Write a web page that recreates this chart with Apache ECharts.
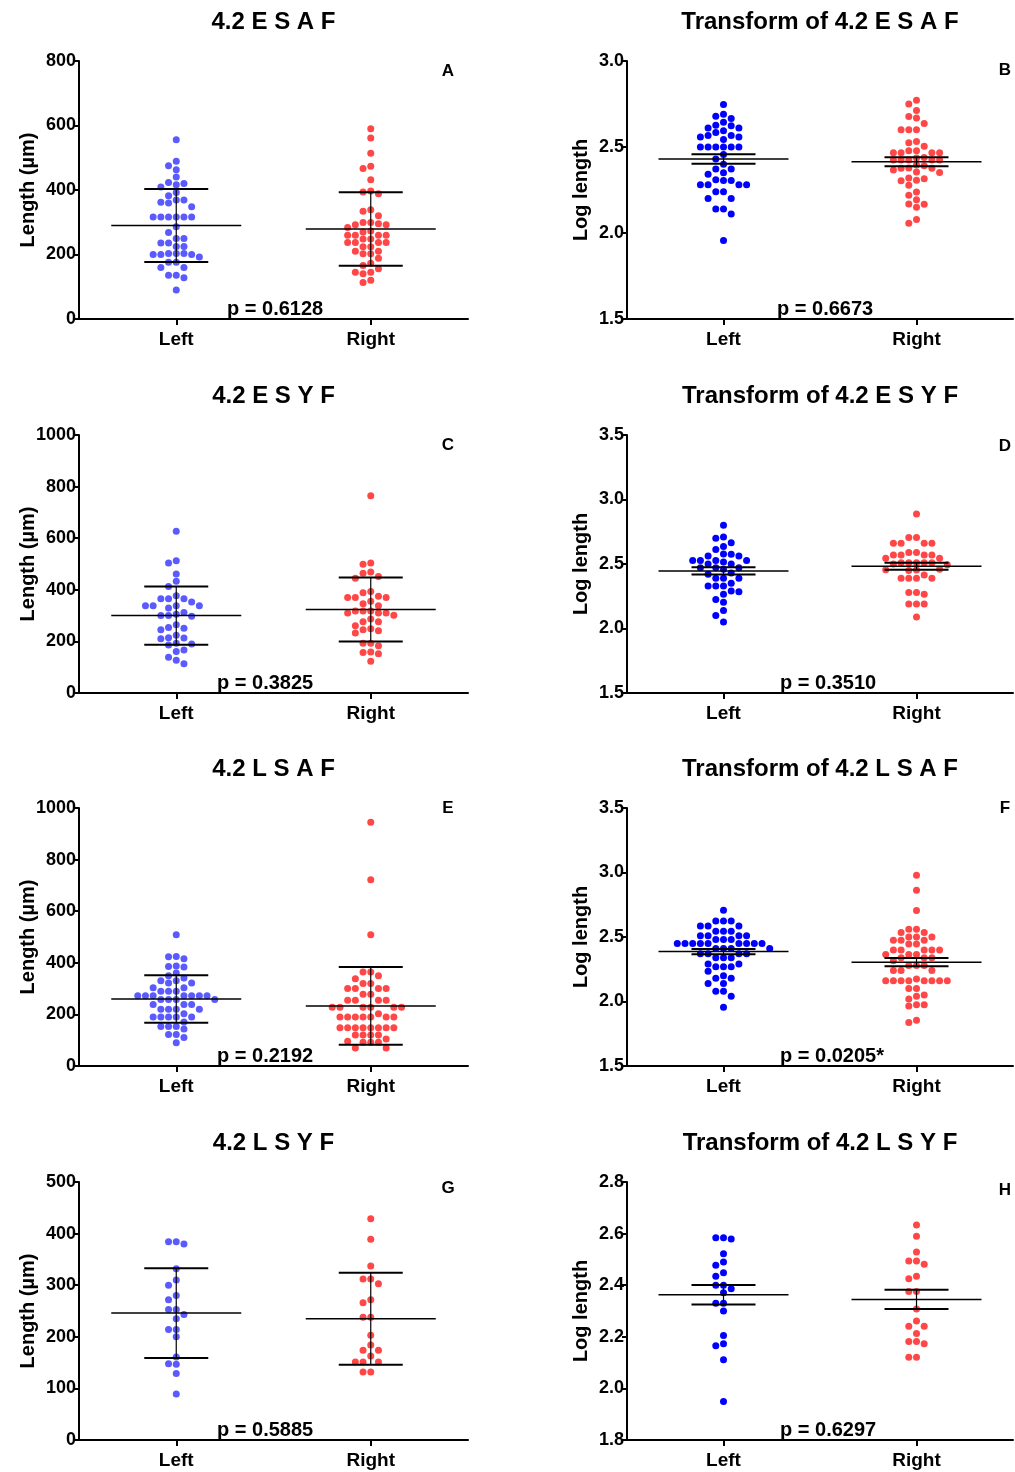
<!DOCTYPE html>
<html>
<head>
<meta charset="utf-8">
<script src="https://cdn.jsdelivr.net/npm/echarts@6/dist/echarts.min.js"></script>
<style>
html,body{margin:0;padding:0;background:#fff;}
#chart{width:1015px;height:1472px;}
</style>
</head>
<body>
<div id="chart"></div>
<script>
// ---------- DATA ----------
const categories = ['Left', 'Right'];
const panelTitles = ['4.2 E S A F', 'Transform of 4.2 E S A F', '4.2 E S Y F', 'Transform of 4.2 E S Y F',
                     '4.2 L S A F', 'Transform of 4.2 L S A F', '4.2 L S Y F', 'Transform of 4.2 L S Y F'];
const panelLetters = ['A', 'B', 'C', 'D', 'E', 'F', 'G', 'H'];
const pTexts = ['p = 0.6128', 'p = 0.6673', 'p = 0.3825', 'p = 0.3510', 'p = 0.2192', 'p = 0.0205*', 'p = 0.5885', 'p = 0.6297'];
const yNames = ['Length (µm)', 'Log length', 'Length (µm)', 'Log length', 'Length (µm)', 'Log length', 'Length (µm)', 'Log length'];
const yMins = [0, 1.5, 0, 1.5, 0, 1.5, 0, 1.8];
const yMaxs = [800, 3.0, 1000, 3.5, 1000, 3.5, 500, 2.8];
const yIntervals = [200, 0.5, 200, 0.5, 200, 0.5, 100, 0.2];

const A_left = [556, 489, 475, 463, 440, 423, 420, 409, 416, 392, 382, 369, 369, 362, 360, 348, 316, 316, 316, 316, 316, 316, 286, 268, 250, 250, 236, 236, 225, 225, 203, 203, 203, 200, 200, 200, 192, 176, 176, 160, 160, 136, 136, 128, 90];
const A_right = [590, 561, 514, 474, 467, 432, 397, 394, 388, 339, 334, 320, 299, 292, 292, 295, 299, 284, 273, 270, 260, 260, 260, 260, 248, 248, 237, 237, 237, 237, 224, 224, 210, 210, 202, 202, 188, 173, 166, 156, 145, 145, 140, 120, 113];
const B_left = [2.747, 2.69, 2.679, 2.666, 2.644, 2.627, 2.623, 2.611, 2.611, 2.594, 2.585, 2.567, 2.567, 2.558, 2.558, 2.544, 2.5, 2.5, 2.5, 2.5, 2.5, 2.5, 2.457, 2.43, 2.399, 2.372, 2.372, 2.35, 2.341, 2.305, 2.305, 2.31, 2.28, 2.28, 2.28, 2.28, 2.24, 2.24, 2.2, 2.2, 2.14, 2.14, 2.11, 1.956];
const B_right = [2.772, 2.75, 2.712, 2.677, 2.668, 2.637, 2.6, 2.6, 2.6, 2.532, 2.525, 2.505, 2.478, 2.467, 2.467, 2.467, 2.467, 2.478, 2.439, 2.424, 2.424, 2.424, 2.424, 2.424, 2.436, 2.395, 2.391, 2.376, 2.366, 2.376, 2.378, 2.352, 2.354, 2.316, 2.306, 2.304, 2.32, 2.277, 2.238, 2.219, 2.194, 2.167, 2.15, 2.169, 2.078, 2.057];
const C_left = [627, 504, 513, 461, 433, 413, 377, 365, 365, 365, 353, 338, 338, 338, 338, 329, 312, 305, 300, 300, 297, 265, 254, 245, 251, 224, 214, 210, 213, 193, 190, 186, 167, 161, 139, 127, 113];
const C_right = [765, 504, 499, 464, 469, 452, 445, 393, 389, 370, 370, 375, 370, 356, 346, 338, 318, 318, 318, 310, 310, 310, 301, 287, 276, 276, 261, 249, 241, 245, 233, 193, 193, 183, 159, 157, 152, 123];
const D_left = [2.8, 2.71, 2.7, 2.665, 2.636, 2.613, 2.575, 2.578, 2.562, 2.562, 2.528, 2.528, 2.528, 2.528, 2.515, 2.5, 2.5, 2.47, 2.47, 2.47, 2.46, 2.43, 2.42, 2.39, 2.39, 2.39, 2.35, 2.33, 2.33, 2.33, 2.29, 2.284, 2.266, 2.225, 2.204, 2.14, 2.1, 2.05];
const D_right = [2.888, 2.705, 2.705, 2.66, 2.66, 2.66, 2.66, 2.59, 2.59, 2.57, 2.57, 2.57, 2.57, 2.545, 2.545, 2.51, 2.51, 2.51, 2.51, 2.51, 2.5, 2.495, 2.459, 2.453, 2.449, 2.456, 2.415, 2.39, 2.39, 2.39, 2.39, 2.28, 2.28, 2.266, 2.19, 2.19, 2.19, 2.09];
const E_left = [509, 424, 423, 416, 388, 384, 386, 360, 350, 341, 330, 330, 322, 322, 303, 303, 290, 290, 290, 272, 272, 272, 272, 272, 272, 272, 258, 258, 258, 258, 238, 238, 238, 220, 220, 220, 220, 203, 190, 190, 190, 190, 190, 171, 153, 153, 153, 143, 122, 122, 110, 90];
const E_right = [945, 722, 509, 364, 364, 350, 338, 320, 320, 300, 300, 300, 300, 278, 278, 255, 255, 255, 255, 228, 228, 228, 228, 228, 228, 203, 190, 190, 190, 190, 190, 190, 190, 148, 148, 148, 148, 148, 148, 148, 148, 120, 120, 120, 120, 105, 96, 92, 92, 92, 70, 70];
const F_left = [2.708, 2.625, 2.625, 2.625, 2.585, 2.585, 2.585, 2.545, 2.545, 2.545, 2.51, 2.51, 2.51, 2.51, 2.48, 2.48, 2.48, 2.45, 2.45, 2.45, 2.45, 2.45, 2.45, 2.45, 2.45, 2.45, 2.41, 2.41, 2.41, 2.41, 2.37, 2.37, 2.37, 2.37, 2.34, 2.34, 2.34, 2.29, 2.29, 2.27, 2.27, 2.27, 2.235, 2.2, 2.18, 2.18, 2.14, 2.14, 2.08, 2.08, 2.04, 1.955];
const F_right = [2.978, 2.862, 2.706, 2.56, 2.56, 2.535, 2.535, 2.5, 2.5, 2.5, 2.475, 2.475, 2.475, 2.445, 2.445, 2.4, 2.4, 2.4, 2.4, 2.4, 2.365, 2.365, 2.365, 2.34, 2.34, 2.34, 2.315, 2.28, 2.28, 2.28, 2.24, 2.24, 2.24, 2.175, 2.16, 2.16, 2.16, 2.16, 2.16, 2.16, 2.16, 2.16, 2.1, 2.1, 2.05, 2.04, 2.02, 1.975, 1.975, 1.965, 1.855, 1.837];
const G_left = [384, 380, 384, 332, 310, 300, 280, 272, 253, 253, 243, 235, 214, 214, 200, 161, 147, 148, 129, 89];
const G_right = [429, 389, 337, 312, 312, 303, 272, 266, 238, 238, 203, 184, 174, 174, 163, 151, 151, 151, 132, 132];
const H_left = [2.584, 2.579, 2.584, 2.522, 2.49, 2.477, 2.448, 2.435, 2.4, 2.4, 2.386, 2.371, 2.33, 2.33, 2.3, 2.205, 2.173, 2.165, 2.111, 1.949];
const H_right = [2.633, 2.59, 2.529, 2.494, 2.494, 2.481, 2.435, 2.425, 2.376, 2.376, 2.308, 2.261, 2.241, 2.241, 2.213, 2.182, 2.173, 2.182, 2.121, 2.121];

// group means and error (SD for raw panels, SEM for log panels), as drawn
const means = [[290, 279], [2.43, 2.414], [300, 324], [2.446, 2.482], [260, 233], [2.387, 2.305], [246, 235], [2.363, 2.345]];
const errors = [[113, 114], [0.028, 0.026], [113, 124], [0.028, 0.027], [92, 151], [0.02, 0.032], [87, 89], [0.038, 0.037]];

const panelData = [[A_left, A_right], [B_left, B_right], [C_left, C_right], [D_left, D_right],
                   [E_left, E_right], [F_left, F_right], [G_left, G_right], [H_left, H_right]];

// ---------- LAYOUT / STYLE ----------
const FONT = '"Liberation Sans", Arial, Helvetica, sans-serif';
const colLeft = [79, 627];
const colWidth = [389, 386];
const rowTop = [61, 435, 808, 1182];
const plotH = 258;
const rawBlue = '#5a5aff', logBlue = '#0000ff', red = '#ff4747';
const STEP_PX = 7.7, MIN_DY = 7;

function swarm(values, center, yMin, yMax, hPx, pxPerX) {
  const pts = values.map(v => ({ v, py: (v - yMin) / (yMax - yMin) * hPx })).sort((a, b) => b.v - a.v);
  const placed = [], out = [];
  for (const p of pts) {
    for (let j = 0; j < 60; j++) {
      const k = j === 0 ? 0 : (j % 2 === 1 ? -Math.ceil(j / 2) : Math.ceil(j / 2));
      if (placed.every(q => q.k !== k || Math.abs(q.py - p.py) >= MIN_DY)) {
        placed.push({ k, py: p.py });
        out.push([center + k * STEP_PX / pxPerX, p.v]);
        break;
      }
    }
  }
  return out;
}

const grids = [], xAxes = [], yAxes = [], series = [], graphics = [];
const letterY = [71, 70, 445, 446, 808, 808, 1188, 1190];
const pLeft = [227, 777, 217, 780, 217, 780, 217, 780];

for (let i = 0; i < 8; i++) {
  const col = i % 2, row = Math.floor(i / 2);
  const left = colLeft[col], width = colWidth[col], top = rowTop[row];
  grids.push({ left, top, width, height: plotH, containLabel: false });
  const isLog = col === 1;
  xAxes.push({
    gridIndex: i, type: 'value', min: 0.5, max: 2.5,
    axisLine: { show: true, onZero: false, lineStyle: { color: '#000', width: 2 } },
    axisTick: { show: true, customValues: [1, 2], length: 6, lineStyle: { color: '#000', width: 2 } },
    axisLabel: { show: true, customValues: [1, 2], formatter: v => categories[Math.round(v) - 1],
                 color: '#000', fontWeight: 'bold', fontSize: 19, fontFamily: FONT, margin: 11 },
    splitLine: { show: false }
  });
  yAxes.push({
    gridIndex: i, type: 'value', min: yMins[i], max: yMaxs[i], interval: yIntervals[i],
    axisLine: { show: true, onZero: false, lineStyle: { color: '#000', width: 2 } },
    axisTick: { show: true, length: 5, lineStyle: { color: '#000', width: 2 } },
    axisLabel: { color: '#000', fontWeight: 'bold', fontSize: 18, fontFamily: FONT, margin: 3,
                 formatter: v => isLog ? Number(v).toFixed(1) : String(Math.round(v)) },
    splitLine: { show: false }
  });
  const pxPerX = width / 2;
  const colors = [isLog ? logBlue : rawBlue, red];
  for (let g = 0; g < 2; g++) {
    series.push({
      type: 'scatter', xAxisIndex: i, yAxisIndex: i, symbol: 'circle', symbolSize: 7,
      itemStyle: { color: colors[g], opacity: 1 }, z: 2, silent: true,
      data: swarm(panelData[i][g], g + 1, yMins[i], yMaxs[i], plotH, pxPerX)
    });
  }
  const capHalf = 32, meanHalf = 65;
  series.push({
    type: 'custom', xAxisIndex: i, yAxisIndex: i, z: 5, silent: true,
    data: [[1, means[i][0], errors[i][0]], [2, means[i][1], errors[i][1]]],
    renderItem: (params, api) => {
      const c = api.value(0), m = api.value(1), e = api.value(2);
      const pm = api.coord([c, m]), pu = api.coord([c, m + e]), pl = api.coord([c, m - e]);
      const st = w => ({ stroke: '#000', lineWidth: w, fill: null });
      return {
        type: 'group', children: [
          { type: 'line', shape: { x1: pm[0], y1: pu[1], x2: pm[0], y2: pl[1] }, style: st(1.2) },
          { type: 'line', shape: { x1: pm[0] - meanHalf, y1: pm[1], x2: pm[0] + meanHalf, y2: pm[1] }, style: st(1.5) },
          { type: 'line', shape: { x1: pm[0] - capHalf, y1: pu[1], x2: pm[0] + capHalf, y2: pu[1] }, style: st(2) },
          { type: 'line', shape: { x1: pm[0] - capHalf, y1: pl[1], x2: pm[0] + capHalf, y2: pl[1] }, style: st(2) }
        ]
      };
    }
  });
  graphics.push({ type: 'text', x: left + width / 2, y: top - 39, silent: true,
    style: { text: panelTitles[i], fill: '#000', fontSize: 24, fontWeight: 'bold', fontFamily: FONT, align: 'center', verticalAlign: 'middle' } });
  graphics.push({ type: 'text', x: col === 0 ? 448 : 1005, y: letterY[i], silent: true,
    style: { text: panelLetters[i], fill: '#000', fontSize: 17, fontWeight: 'bold', fontFamily: FONT, align: 'center', verticalAlign: 'middle' } });
  graphics.push({ type: 'text', x: pLeft[i], y: top + plotH - 10, silent: true,
    style: { text: pTexts[i], fill: '#000', fontSize: 20, fontWeight: 'bold', fontFamily: FONT, align: 'left', verticalAlign: 'middle' } });
  graphics.push({ type: 'text', x: col === 0 ? 28 : 581, y: top + plotH / 2, rotation: Math.PI / 2, silent: true,
    style: { text: yNames[i], fill: '#000', fontSize: 20, fontWeight: 'bold', fontFamily: FONT, align: 'center', verticalAlign: 'middle' } });
}

const chart = echarts.init(document.getElementById('chart'), null, { renderer: 'canvas' });
chart.setOption({
  backgroundColor: '#fff',
  animation: false,
  grid: grids, xAxis: xAxes, yAxis: yAxes, series: series,
  graphic: { elements: graphics }
});
</script>
</body>
</html>
